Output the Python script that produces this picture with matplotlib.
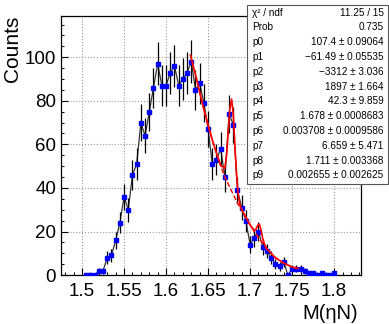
import matplotlib
matplotlib.use('Agg')
import matplotlib.pyplot as plt
import numpy as np

plt.rcParams['font.family'] = ['Liberation Sans', 'DejaVu Sans']

# bin centres of the M(eta N) histogram
mass = np.round(1.505 + 0.005 * np.arange(60), 3)
counts = [0, 0, 0, 2, 2, 8, 9, 16, 24, 36,
          30, 46, 51, 70, 64, 75, 86, 97, 87, 87,
          93, 96, 87, 90, 93, 98, 85, 88, 79, 67,
          51, 53, 58, 45, 74, 69, 39, 31, 25, 14,
          17, 20, 13, 11, 8, 5, 4, 6, 0, 3,
          3, 3, 2, 1, 1, 0, 1, 0, 0, 1]

# fit curve (solid) and background part (dashed)
fit_x = [1.629, 1.635, 1.64, 1.645, 1.65, 1.655, 1.66, 1.665, 1.67, 1.672,
         1.674, 1.676, 1.678, 1.68, 1.682, 1.684, 1.686, 1.688, 1.69, 1.695,
         1.70, 1.705, 1.707, 1.709, 1.711, 1.713, 1.715, 1.717, 1.72, 1.73,
         1.74, 1.75, 1.757]
fit_y = [101, 92, 84, 76, 69, 62, 56, 50.3, 49, 55,
         65.6, 76.6, 80.8, 73.6, 59, 45.4, 36.6, 32, 30.2, 26.5,
         23, 20.5, 21.1, 22.8, 23.4, 20.7, 16.8, 14.3, 12, 8,
         5.5, 3.7, 3.0]
bkg_x = [1.629, 1.635, 1.64, 1.645, 1.65, 1.655, 1.66, 1.665, 1.67, 1.675,
         1.68, 1.685, 1.69, 1.695, 1.70, 1.705, 1.71, 1.715, 1.72, 1.73,
         1.74, 1.75, 1.757]
bkg_y = [101, 92, 84, 76, 69, 62, 56, 50, 45, 41,
         37, 33, 30, 26.5, 23, 20, 17, 14.7, 12, 8,
         5.5, 3.7, 3.0]

stat_names = ['χ² / ndf', 'Prob', 'p0', 'p1', 'p2', 'p3', 'p4', 'p5', 'p6', 'p7', 'p8', 'p9']
stat_vals = ['11.25 / 15', '0.735',
             '107.4 ± 0.09064', '−61.49 ± 0.05535', '−3312 ± 3.036',
             '1897 ± 1.664', '42.3 ± 9.859', '1.678 ± 0.0008683',
             '0.003708 ± 0.0009586', '6.659 ± 5.471', '1.711 ± 0.003368',
             '0.002655 ± 0.002625']

fig = plt.figure(figsize=(3.89, 3.24), dpi=100)
ax = fig.add_axes([0.157, 0.151, 0.771, 0.80])

err = np.sqrt(counts)
ax.plot(mass, counts, color='#333333', lw=0.9, zorder=2)
ax.errorbar(mass, counts, yerr=err, fmt='none', ecolor='black', elinewidth=0.9, zorder=3)
ax.plot(mass, counts, 's', color='#0000ff', ms=3.2, mec='#0000ff', zorder=4)
ax.plot(bkg_x, bkg_y, '--', color='red', lw=1.0, zorder=5)
ax.plot(fit_x, fit_y, '-', color='red', lw=1.2, zorder=6)

ax.set_xlim(1.475, 1.832)
ax.set_ylim(0, 119)
ax.set_xticks([1.5, 1.55, 1.6, 1.65, 1.7, 1.75, 1.8])
ax.set_xticklabels(['1.5', '1.55', '1.6', '1.65', '1.7', '1.75', '1.8'])
ax.set_yticks([0, 20, 40, 60, 80, 100])
ax.set_xticks(np.arange(1.48, 1.83, 0.01), minor=True)
ax.set_yticks(np.arange(0, 119, 5), minor=True)
ax.tick_params(which='both', direction='in', top=False, right=False, labelsize=13.5)
ax.tick_params(which='major', length=5, width=0.8)
ax.tick_params(which='minor', length=2.5, width=0.7)
ax.tick_params(axis='x', pad=6)
ax.grid(True, which='major', color='#999999', ls=':', lw=0.8)
for s in ax.spines.values():
    s.set_linewidth(0.9)

ax.set_ylabel('Counts', fontsize=15, loc='top', labelpad=2)
fig.text(0.921, 0.003, 'M(ηN)', fontsize=14.5, ha='right', va='bottom')

# statistics box
box = plt.Rectangle((0.635, 0.432), 0.362, 0.553, transform=fig.transFigure,
                    facecolor='white', edgecolor='#555555', lw=0.8, zorder=10)
fig.add_artist(box)
top = 1 - 12.7 / 324
step = 14.8 / 324
for i, (n, v) in enumerate(zip(stat_names, stat_vals)):
    y = top - i * step
    fig.text(0.648, y, n, fontsize=7.2, ha='left', va='center', zorder=11)
    fig.text(0.986, y, v, fontsize=7.2, ha='right', va='center', zorder=11)

fig.savefig('out.png', dpi=100)
